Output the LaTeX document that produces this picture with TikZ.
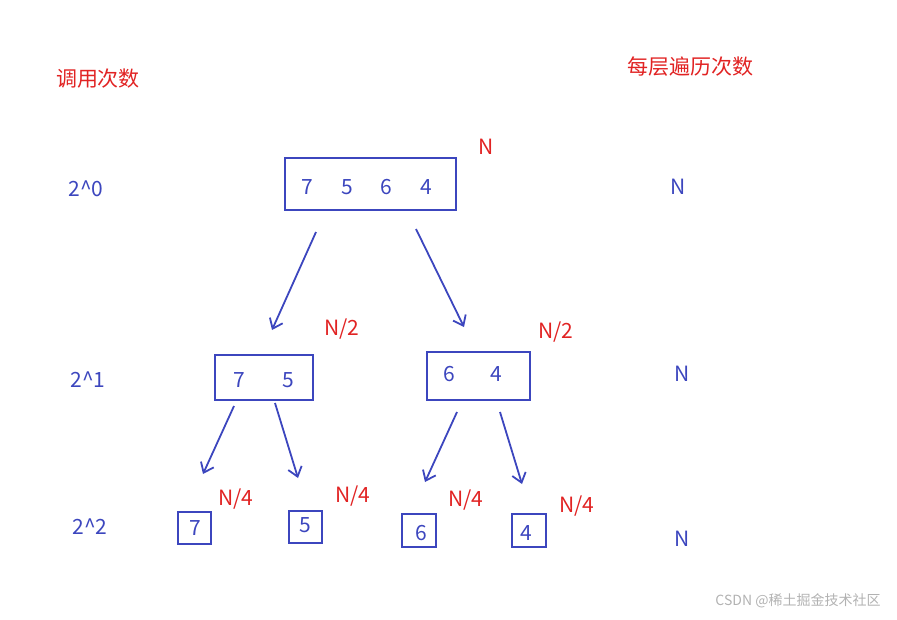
\documentclass[tikz,border=0pt]{standalone}
\usepackage{fontspec}
\setmainfont{Noto Sans CJK SC}
\usetikzlibrary{arrows.meta}
\definecolor{bl}{RGB}{60,70,190}
\definecolor{rd}{RGB}{225,35,35}
\tikzset{
 box/.style={draw=bl,line width=2.2pt},
 arr/.style={draw=bl,line width=1.8pt,-{Straight Barb[length=9pt,width=14pt]}},
 bt/.style={text=bl,font=\fontsize{21}{21}\selectfont,inner sep=0pt},
 rt/.style={text=rd,font=\fontsize{21}{21}\selectfont,inner sep=0pt}
}
\begin{document}
\begin{tikzpicture}[x=1pt,y=-1pt]
\useasboundingbox (0,0) rectangle (897,619);
\draw[box] (285,158) rectangle (456,210);
\node[bt] (t) at (367,187) {7\hspace{28pt}5\hspace{28pt}6\hspace{28pt}4};
\draw[box] (215,355) rectangle (313,400);
\node[bt] (ml) at (264,380) {7\hspace{37pt}5};
\draw[box] (427,352) rectangle (530,400);
\node[bt] (mr) at (473,374) {6\hspace{35pt}4};
\draw[box] (178,512) rectangle (211,544); \node[bt] (b1) at (195,528) {7};
\draw[box] (289,511) rectangle (322,543); \node[bt] (b2) at (305,525) {5};
\draw[box] (402,514) rectangle (436,547); \node[bt] (b3) at (421,533) {6};
\draw[box] (512,514) rectangle (546,547); \node[bt] (b4) at (526,533) {4};
\coordinate (a1) at (316,232); \coordinate (e1) at (272,330);
\coordinate (a2) at (416,229); \coordinate (e2) at (464,327);
\coordinate (a3) at (234,406); \coordinate (e3) at (203,474);
\coordinate (a4) at (275,403); \coordinate (e4) at (298,478);
\coordinate (a5) at (457,412); \coordinate (e5) at (425,482);
\coordinate (a6) at (500,412); \coordinate (e6) at (522,484);
\foreach \i in {1,...,6} \draw[arr] (a\i) -- (e\i);
\node[rt] (h1) at (98,79) {调用次数};
\node[rt] (h2) at (690,67) {每层遍历次数};
\node[bt] (l0) at (86,189) {2\textasciicircum0};
\node[bt] (l1) at (88,380) {2\textasciicircum1};
\node[bt] (l2) at (90,527) {2\textasciicircum2};
\node[bt] (n0) at (678,187) {N};
\node[bt] (n1) at (682,374) {N};
\node[bt] (n2) at (682,539) {N};
\node[rt] (r0) at (486,147) {N};
\node[rt] (r1) at (342,329) {N/2};
\node[rt] (r2) at (556,332) {N/2};
\node[rt] (r3) at (236,499) {N/4};
\node[rt] (r4) at (353,496) {N/4};
\node[rt] (r5) at (466,500) {N/4};
\node[rt] (r6) at (577,506) {N/4};
\node[text=black!30,font=\fontsize{14}{14}\selectfont] (wm) at (798,601) {CSDN @稀土掘金技术社区};
\end{tikzpicture}
\end{document}
